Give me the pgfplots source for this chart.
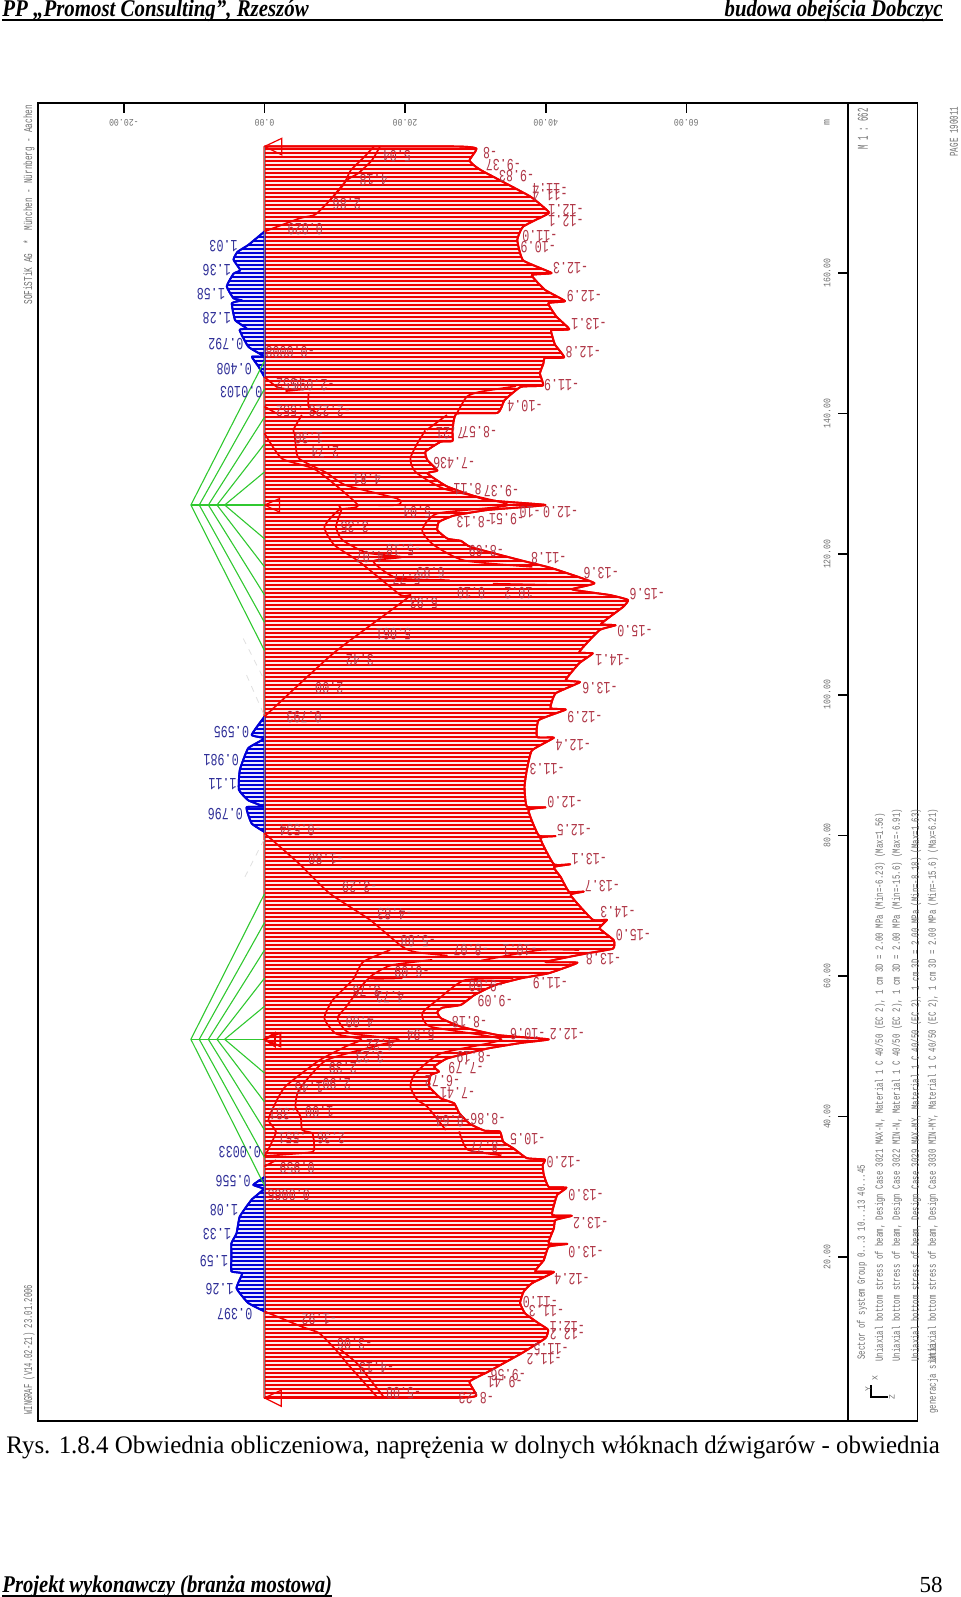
\documentclass[border=0pt]{standalone}
\usepackage{fontspec}
\setmainfont{Liberation Serif}
\newfontfamily\dos{Liberation Mono}
\usepackage{graphicx}
\usepackage{pgfplots}
\pgfplotsset{compat=1.18}
\usetikzlibrary{patterns.meta}

\definecolor{beamred}{HTML}{F00000}
\definecolor{beamblue}{HTML}{0000D8}
\definecolor{lblred}{HTML}{B03848}
\definecolor{lblblue}{HTML}{303098}
\definecolor{fan}{HTML}{30C830}
\definecolor{txtgray}{HTML}{707070}
\definecolor{palered}{HTML}{FFEAEA}
\definecolor{paleblue}{HTML}{EAEAFF}

% s = station along the beam [m], sigma = stress [MPa]; 1 MPa = 3.314 m of drawing
\pgfplotsset{/pgfplots/table/dg/.style={x expr=-3.314*\thisrow{sigma},y=s,row sep=\\}}
\newcommand{\tl}[1]{\scalebox{.82}[1]{#1}}
\pgfplotsset{
  inner/.style={draw=beamred,line width=.85pt,line join=round,smooth,tension=.35},
  fanline/.style={draw=fan,line width=.55pt},
  redhatch/.style={draw=beamred,line width=.95pt,line join=round,fill=palered,
    postaction={pattern={Lines[angle=0,distance=2pt,line width=.6pt]},pattern color=beamred}},
  bluehatch/.style={draw=beamblue,line width=.95pt,line join=round,fill=paleblue,
    postaction={pattern={Lines[angle=0,distance=2pt,line width=.6pt]},pattern color=beamblue}},
  labels/.style={draw=none,mark=none,nodes near coords={\scalebox{.69}[1]{\pgfplotspointmeta}},point meta=explicit symbolic,
    nodes near coords style={anchor=center,rotate=180,inner sep=0pt,font=\dos\fontsize{8.5}{9}\selectfont,text=#1}},
}

\begin{document}
\begin{tikzpicture}[x=.5pt,y=-.5pt]
\path[use as bounding box] (0,0) rectangle (960,1597);

% page header and footer
\node[anchor=base west,inner sep=0pt] at (2,16.5) {\scalebox{.87}[1]{\fontsize{12}{13}\selectfont\bfseries\itshape PP „Promost Consulting”, Rzeszów}};
\node[anchor=base east,inner sep=0pt] at (943,16.5) {\scalebox{.865}[1]{\fontsize{12}{13}\selectfont\bfseries\itshape budowa obejścia Dobczyc}};
\draw[line width=.9pt] (2,20) -- (943,20);
\node[anchor=base west,inner sep=0pt] at (6,1453) {\scalebox{.99}[1]{\fontsize{12.6}{13}\selectfont Rys. 1.8.4 Obwiednia obliczeniowa, naprężenia w dolnych włóknach dźwigarów - obwiednia}};
\node[anchor=base west,inner sep=0pt] at (2,1592) {\scalebox{.86}[1]{\fontsize{12}{13}\selectfont\bfseries\itshape Projekt wykonawczy (branża mostowa)}};
\draw[line width=.9pt] (2,1596) -- (332,1596);
\node[anchor=base east,inner sep=0pt] at (943,1592) {\fontsize{11.5}{12}\selectfont 58};

% side panel frame
\draw[line width=.8pt] (38,103) rectangle (917.5,1420.7);

\begin{axis}[
  at={(19pt,-710.35pt)},anchor=south west,
  scale only axis,width=405pt,height=658.85pt,
  xmin=-32.22,xmax=83.0,ymin=-3.25,ymax=184.18,
  clip=false,
  axis line style={line width=.8pt},
  tick style={line width=.8pt,black},
  tick align=inside,
  major tick length=5pt,
  xtick={-20,0,20,40,60},
  xticklabels={\tl{-20.00},\tl{0.00},\tl{20.00},\tl{40.00},\tl{60.00}},
  xtick pos=upper,xticklabel pos=upper,
  ytick={20,40,60,80,100,120,140,160},
  yticklabels={\tl{20.00},\tl{40.00},\tl{60.00},\tl{80.00},\tl{100.00},\tl{120.00},\tl{140.00},\tl{160.00}},
  ytick pos=upper,yticklabel pos=upper,
  xticklabel style={rotate=180,anchor=center,yshift=9.9pt,font=\dos\fontsize{5}{6}\selectfont,text=txtgray},
  yticklabel style={rotate=90,anchor=center,yshift=10.5pt,font=\dos\fontsize{5}{6}\selectfont,text=txtgray},
]

% red envelope, hatched
\addplot[redhatch,smooth,tension=.25]
  table[dg]{s sigma\\
0 0\\ 0 -8.14\\ .3 -9.09\\ 2.3 -8.8\\ 3.7 -9.59\\ 6.35 -11.04\\ 8.5 -12.06\\ 9.7 -12.17\\ 10.6 -11.77\\ 12 -11.19\\
13.5 -10.97\\ 15.1 -11.12\\ 16.3 -11.48\\ 17.9 -12.42\\ 18 -11.62\\ 19.6 -11.99\\ 21.5 -12.2\\ 21.9 -13\\ 22 -12.2\\
24.1 -12.42\\ 25.3 -12.49\\ 25.9 -13.19\\ 26 -12.35\\ 27.7 -12.45\\ 28.9 -12.57\\ 29.9 -12.96\\ 30 -12.2\\ 31.7 -11.99\\
33.1 -11.94\\ 33.9 -12.03\\ 34.1 -11.26\\ 35.5 -10.68\\ 36.4 -10.25\\ 37.9 -10.1\\ 38 -9.45\\ 39 -8.8\\ 40.5 -8.36\\ 41.9 -8.14\\
42.6 -7.57\\ 44.3 -7.06\\ 45.9 -7.13\\ 46.4 -7.49\\ 47.1 -7.28\\ 48.3 -7.86\\ 49.7 -9.59\\ 50.5 -11.04\\ 51 -12.2\\
51.6 -10.03\\ 52.8 -8.43\\ 54 -7.57\\ 54.9 -7.42\\ 55.5 -7.64\\ 55.9 -8.43\\ 57.3 -9.01\\ 58.7 -9.88\\ 59.7 -11.04\\ 60.4 -12.2\\
61.9 -13.43\\ 62 -12.06\\ 63.2 -13.8\\ 63.9 -14.96\\ 65.1 -14.99\\ 66.8 -14.38\\ 68 -14.7\\ 68 -14.09\\ 71.5 -13.14\\ 72 -13.7\\
72 -13.07\\ 74.1 -12.71\\ 75.5 -12.42\\ 75.9 -13.12\\ 75.9 -12.42\\ 79.6 -11.84\\ 79.9 -12.49\\ 80 -11.77\\ 83.6 -11.33\\ 84 -12.06\\
84.1 -11.26\\ 86.9 -11.16\\ 89.3 -11.26\\ 92.1 -11.48\\ 93.9 -12.42\\ 94 -11.7\\ 96.4 -11.77\\ 97.9 -12.93\\ 98.1 -12.28\\
100.2 -12.49\\ 101.8 -13.54\\ 102.1 -12.93\\ 104.5 -13.51\\ 105.9 -14.09\\ 106.1 -13.51\\ 109.2 -14.38\\ 109.9 -15.07\\ 110.1 -14.45\\
112.5 -15.39\\ 113.5 -15.6\\ 114.2 -14.81\\ 115 -13.2\\ 115.9 -14.16\\ 118 -12.35\\ 119.1 -11.04\\ 121 -8.87\\ 121.9 -8.43\\ 122.2 -7.86\\
123.4 -7.42\\ 124.6 -7.49\\ 125.5 -8.14\\ 126.3 -9.59\\ 127 -12.06\\ 127.7 -9.59\\ 129.6 -7.86\\ 131.5 -6.99\\ 131.9 -7.42\\ 133.4 -6.99\\
134.6 -6.91\\ 136 -7.57\\ 136.1 -8.07\\ 137.6 -8.07\\ 140 -8.25\\ 140.1 -10\\ 141.9 -10.3\\ 143.8 -11\\ 144 -11.95\\ 145.7 -11.82\\
147.1 -11.97\\ 147.9 -12.04\\ 148 -12.86\\ 149.8 -12.47\\ 151.4 -12.32\\ 151.9 -12.32\\ 152 -13.08\\ 153.8 -12.53\\ 155.7 -12.18\\ 156 -12.9\\
157.6 -12.04\\ 159.7 -11.47\\ 160 -12.32\\ 161.8 -11.1\\ 164.7 -10.85\\ 166.6 -11.1\\ 168.3 -12.1\\ 168.7 -12.2\\ 170.9 -11.4\\ 174.7 -9.25\\
176 -8.8\\ 177.7 -9.1\\ 178 -8.15\\ 178 0\\
} -- cycle;

% blue envelope, three spans
\addplot[bluehatch,smooth,tension=.25]
  table[dg]{s sigma\\
165.9 0\\ 164 .69\\ 163 1.16\\ 161.9 1.33\\ 160.4 1.04\\ 159.9 1.33\\ 158.1 1.62\\ 156.4 1.33\\ 156.1 .97\\ 155.7 1.4\\ 153.3 1.26\\
152.1 .76\\ 151.9 1.07\\ 149.5 .69\\ 148.1 0\\ 148.1 .54\\ 146.7 .26\\ 145.2 0\\
} -- cycle;
\addplot[bluehatch,smooth,tension=.25]
  table[dg]{s sigma\\
96.9 0\\ 94.3 .55\\ 93.8 0\\ 92.4 .7\\ 89.3 1.06\\ 86.5 1.1\\ 85 .7\\ 84.1 .04\\ 84 .77\\ 81.7 .55\\ 80.5 0\\
} -- cycle;
\addplot[bluehatch,smooth,tension=.25]
  table[dg]{s sigma\\
12.3 0\\ 13.5 .7\\ 15.6 1.2\\ 17.7 .96\\ 18 1.42\\ 20.1 1.42\\ 22 1.42\\ 23.4 1.2\\ 25.8 1.06\\ 28.2 .55\\ 29.7 .04\\ 30.3 .48\\ 31.4 0\\
} -- cycle;

% baseline
\addplot[draw=gray,line width=.55pt] table[dg]{s sigma\\ 0 0\\ 178 0\\};

% inner stress curves
\addplot[inner] table[dg]{s sigma\\ 178 -4.96\\ 176 -4.6\\ 174.2 -4.03\\ 173.2 -3.53\\ 170.4 -2.82\\ 168.3 -2.17\\ 167.8 -1.53\\ 165.9 0\\};
\addplot[inner] table[dg]{s sigma\\ 178 -4.7\\ 176.4 -4.25\\ 174.6 -3.7\\ 172.6 -3.4\\ 170.4 -2.82\\};
\addplot[inner] table[dg]{s sigma\\ 145.2 0\\ 143.8 -.53\\ 143.5 -.96\\ 143.5 -1.75\\ 143.2 -.9\\};
\addplot[inner] table[dg]{s sigma\\ 142.9 -1.89\\ 141 -1.89\\ 140.1 -2.25\\};
\addplot[inner] table[dg]{s sigma\\ 141 0\\ 140 -.53\\};
\addplot[inner] table[dg]{s sigma\\ 139.8 -1.6\\ 137.7 -1.24\\ 137 -1.3\\ 135.7 -1.33\\ 133.6 -1.48\\ 131.6 -2.65\\ 129.8 -3.5\\ 127.9 -5.7\\ 127 -5.68\\ 127 -3.3\\ 126.3 -3.3\\ 123.9 -3.07\\ 122 -3.35\\ 120.2 -4.4\\ 119.6 -5.9\\ 119 -4.67\\ 116.6 -5.68\\ 116.3 -7.93\\ 116.3 -4.81\\};
\addplot[inner] table[dg]{s sigma\\ 137.2 0\\ 133.6 -.75\\ 132 -2.2\\ 127 -4\\ 126.3 -3.2\\ 123.9 -2.57\\ 121.3 -3\\ 118.9 -4.08\\ 114.2 -5.83\\ 113.9 -6.18\\ 106 -2.99\\ 96.9 0\\};
\addplot[inner] table[dg]{s sigma\\ 137.6 -6.9\\ 135.7 -6.55\\ 133.6 -6.26\\ 131.7 -6.48\\ 129.3 -7.71\\ 127 -10.46\\ 125.8 -7.42\\ 123.4 -6.77\\ 121.3 -7.27\\ 119.1 -8.58\\ 118.2 -11.5\\};
\addplot[inner] table[dg]{s sigma\\ 137.7 -6.97\\ 139.8 -7.83\\};
\addplot[inner] table[dg]{s sigma\\ 140 -8.25\\ 142.4 -8.68\\ 143.1 -9.25\\ 143.9 -10.8\\};
\addplot[inner] table[dg]{s sigma\\ 115.8 -9.8\\ 115.6 -12.77\\};

\addplot[inner] table[dg]{s sigma\\ 80.3 0\\ 76 -1.48\\ 71.8 -2.78\\ 68 -4.52\\ 64.2 -5.9\\ 63.4 -6.5\\ 62.9 -7.86\\};
\addplot[inner] table[dg]{s sigma\\ 63.7 -5.39\\ 62 -4.23\\ 59.5 -3.8\\ 56.6 -2.93\\ 54 -2.57\\ 51.8 -3.07\\ 51 -4.16\\ 50 -3.5\\ 48 -2.35\\ 44.3 -.9\\ 41.4 -.39\\ 39.5 -.17\\ 37.9 -.49\\ 36.2 -.29\\ 34.3 0\\};
\addplot[inner] table[dg]{s sigma\\ 62.3 -7.2\\ 61.5 -5.4\\ 59.7 -4.5\\ 59.7 -5.9\\ 59.7 -4.5\\ 55.6 -3.5\\ 54 -3.14\\ 51.9 -3.65\\ 51 -5.75\\ 50.2 -4.96\\ 48 -2.64\\ 43.8 -1.48\\ 41.4 -1.33\\ 40 -1.55\\ 38.1 -1.62\\ 37.6 -2.06\\ 35.3 -2.13\\ 34.9 -1.9\\ 34.4 0\\};
\addplot[inner] table[dg]{s sigma\\ 62.2 -9.3\\ 63.7 -11.8\\ 63.7 -13.5\\};
\addplot[inner] table[dg]{s sigma\\ 59.7 -10.68\\ 59.4 -8.58\\ 56.6 -7.42\\ 54.7 -6.77\\ 52.8 -7.13\\ 51 -10.17\\ 49 -7.57\\ 46.2 -6.48\\ 44.3 -6.26\\ 42.4 -6.55\\ 41.4 -6.99\\ 38.1 -7.78\\};
\addplot[inner] table[dg]{s sigma\\ 34.5 -10.17\\ 35.3 -8.72\\ 37.9 -8.36\\};
\addplot[inner] table[dg]{s sigma\\ 33.8 -.49\\ 32.9 0\\};

\addplot[inner] table[dg]{s sigma\\ 12.3 0\\ 10.1 -1.62\\ 9.2 -2.35\\ 6.8 -3.07\\ 4.5 -3.65\\ .2 -4.81\\};
\addplot[inner] table[dg]{s sigma\\ 7 -3.2\\ 4.8 -4\\ .2 -5.1\\};

% green tendon fans at the two piers
\addplot[fanline] table[dg]{s sigma\\ 131.7 0\\ 127 1.71\\ 122.2 0\\};
\addplot[fanline] table[dg]{s sigma\\ 135.7 0\\ 127 2.04\\ 118.2 0\\};
\addplot[fanline] table[dg]{s sigma\\ 139.5 0\\ 127 2.41\\ 114.2 0\\};
\addplot[fanline] table[dg]{s sigma\\ 143.5 0\\ 127 2.8\\ 110.3 0\\};
\addplot[fanline] table[dg]{s sigma\\ 147.5 0\\ 127 3.16\\ 106.3 0\\};
\addplot[fanline] table[dg]{s sigma\\ 127 3.16\\ 127 0\\};
\addplot[fanline] table[dg]{s sigma\\ 55.7 0\\ 51 1.71\\ 46.2 0\\};
\addplot[fanline] table[dg]{s sigma\\ 59.7 0\\ 51 2.04\\ 42.1 0\\};
\addplot[fanline] table[dg]{s sigma\\ 63.7 0\\ 51 2.41\\ 38.1 0\\};
\addplot[fanline] table[dg]{s sigma\\ 67.6 0\\ 51 2.8\\ 34.2 0\\};
\addplot[fanline] table[dg]{s sigma\\ 71.7 0\\ 51 3.16\\ 30.2 0\\};
\addplot[fanline] table[dg]{s sigma\\ 51 3.16\\ 51 0\\};
% very faint continuation of the fans
\addplot[draw=gray!25,dashed,line width=.4pt] table[dg]{s sigma\\ 108 .91\\ 102.3 .04\\};
\addplot[draw=gray!25,dashed,line width=.4pt] table[dg]{s sigma\\ 102.8 .77\\ 97.3 .04\\};
\addplot[draw=gray!25,dashed,line width=.4pt] table[dg]{s sigma\\ 74.1 .84\\ 79.3 .04\\};

% supports
\addplot[draw=beamred,line width=.6pt] table[dg]{s sigma\\ 178 0\\ 179.15 -.74\\ 176.8 -.74\\ 178 0\\};
\addplot[draw=beamred,line width=.6pt] table[dg]{s sigma\\ 127 0\\ 127.9 -.64\\ 126 -.64\\ 127 0\\};
\addplot[draw=beamred,line width=.9pt] table[dg]{s sigma\\ 51 0\\ 51.9 -.68\\ 50 -.68\\ 51 0\\ 51.9 -.45\\ 50 -.45\\ 51 0\\};
\addplot[draw=beamred,line width=.6pt] table[dg]{s sigma\\ 0 0\\ 1.1 -.72\\ -1.2 -.72\\ 0 0\\};

% value labels
\addplot[labels=lblred] table[dg,meta=t]{s sigma t\\
177 -9.68 -8\\ 175.4 -10.25 -9.37\\ 173.8 -10.82 -9.83\\ 172 -12.25 -11.4\\ 171.1 -12.25 -11.4\\ 169 -12.94 -12.1\\ 167.3 -12.94 -12.1\\
165.2 -11.82 -11.0\\ 163.7 -11.75 -10.9\\ 160.7 -13.14 -12.3\\ 156.7 -13.73 -12.9\\ 152.7 -13.93 -13.1\\ 148.8 -13.68 -12.8\\ 144.1 -12.75 -11.9\\ 141 -11.18 -10.4\\
176.6 -5.68 5.04\\ 173.2 -4.68 4.18\\ 169.8 -3.53 2.86\\ 166.2 -1.75 0.029\\ 148.8 -1.1 -0.0008\\ 144.1 -2.1 -2.096\\ 144.2 -1.1 .552\\ 140.4 -2.8 -2.223\\ 140.4 -1.1 .552\\
137.4 -9.23 -8.57\\ 137.2 -7.97 7.21\\ 132.9 -8.29 -7.43\\ 132.9 -7.4 6\\ 129 -10.17 -9.37\\ 129.3 -8.72 8.11\\ 126 -12.71 -12.0\\ 126 -11.4 -10\\ 125 -10.39 -9.51\\ 124.5 -9 -8.13\\
120.5 -9.52 -8.69\\ 119.4 -12.2 -11.8\\ 117.3 -14.45 -13.6\\ 114.3 -16.43 -15.6\\ 114.5 -10.9 10.2\\ 114.5 -8.87 0.10\\ 117.3 -7.13 6.85\\ 116.5 -6.1 5.77\\ 120.6 -5.97 -5.18\\ 119.6 -4.52 4.07\\
113 -6.84 5.93\\ 108.7 -5.54 5.061\\ 105 -4.09 3.42\\ 100.9 -2.78 2.00\\ 96.9 -1.7 0.793\\ 109 -15.9 -15.0\\ 105 -14.96 -14.1\\ 100.9 -14.4 -13.6\\ 96.9 -13.75 -12.9\\ 92.8 -13.25 -12.4\\ 89.5 -12.13 -11.3\\
126 -6.55 5.04\\ 123.9 -3.87 3.35\\ 130.7 -4.4 4.81\\ 134.5 -2.6 2.74\\ 136.5 -1.9 1.30\\
84.7 -12.9 -12.0\\ 80.8 -13.3 -12.5\\ 76.7 -13.94 -13.1\\ 72.8 -14.5 -13.7\\ 69.1 -15.17 -14.3\\ 65.8 -15.83 -15.0\\ 62.4 -14.55 -13.8\\ 59 -12.27 -11.9\\ 56.5 -9.9 -9.09\\ 53.4 -8.8 -8.18\\ 51.8 -13 -12.2\\ 51.8 -11.3 -10.6\\ 48.4 -9 -8.19\\ 46.9 -8.65 -7.79\\ 45 -7.64 -6.72\\ 43.3 -8.29 -7.41\\
80.8 -1.55 -0.534\\ 76.7 -2.64 -1.80\\ 72.7 -4.09 -3.29\\ 68.8 -5.6 -4.83\\ 64.9 -6.6 -5.88\\ 63.7 -8.87 -8.07\\ 63.7 -10.97 -10.1\\ 60.6 -6.33 -6.09\\ 58.5 -9.52 -9.60\\ 57 -5.39 4.73\\ 57.8 -4.38 3.76\\ 53.5 -4.09 4.00\\ 51.6 -6.7 5.94\\ 50.2 -4.96 4.22\\ 48.5 -4.52 3.23\\ 46.9 -3.36 2.39\\ 44.7 -3.1 2.90\\ 44.1 -1.9 1.45\\
39.6 -9.59 -8.86\\ 39.3 -8.1 -8.64\\ 36.8 -11.3 -10.5\\ 35.7 -9.59 -8.77\\ 33.5 -12.86 -12.0\\ 28.8 -13.8 -13.0\\ 24.8 -14 -13.2\\ 20.8 -13.8 -13.0\\ 16.9 -13.2 -12.4\\ 13.6 -11.84 -11.0\\ 12.3 -12.1 -11.3\\ 10.1 -13 -12.1\\ 9 -13 -12.2\\ 6.9 -12.3 -11.5\\ 5.5 -12 -11.2\\ 3.3 -10.46 -9.56\\ 2.2 -10.32 -9.41\\ 0 -9.09 -8.23\\
40.7 -2.35 1.00\\ 40.3 -.8 .381\\ 36.9 -2.86 2.36\\ 36.9 -1.2 .551\\ 32.7 -1.4 0.959\\ 28.9 -1.04 0.0065\\ 11.2 -2.35 -1.92\\ 7.6 -3.87 -3.06\\ 4.2 -4.81 -4.13\\ .7 -5.97 -5.08\\
};
\addplot[labels=lblblue] table[dg,meta=t]{s sigma t\\
163.8 1.76 1.03\\ 160.4 2.05 1.36\\ 157 2.3 1.58\\ 153.6 2.05 1.28\\ 149.9 1.66 0.792\\ 146.4 1.3 0.408\\ 143 1 0.0103\\
94.7 1.42 0.595\\ 90.7 1.86 0.981\\ 87.3 1.8 1.11\\ 83 1.68 0.796\\
34.9 1.06 0.0033\\ 30.8 1.35 0.556\\ 26.7 1.74 1.08\\ 23.3 2.04 1.33\\ 19.5 2.17 1.59\\ 15.5 1.93 1.26\\ 11.9 1.28 0.397\\
};
\end{axis}

% program's page texts, turned a quarter
\tikzset{side/.style={rotate=90,anchor=west,inner sep=0pt,text=txtgray,font=\dos\fontsize{6}{7}\selectfont},
  leg/.style={rotate=90,anchor=west,inner sep=0pt,text=txtgray,font=\dos\fontsize{5.5}{6}\selectfont}}
\node[rotate=90,anchor=center,inner sep=0pt,text=txtgray,font=\dos\fontsize{5}{6}\selectfont] at (827,122.5) {m};
\node[side] at (29,305) {\scalebox{.645}[1]{SOFiSTiK AG \ * \ München - Nürnberg - Aachen}};
\node[side] at (29,1415) {\scalebox{.6}[1]{WINGRAF (V14.02-21) 23.01.2006}};
\node[side,font=\dos\fontsize{7.5}{8}\selectfont] at (863,150) {\scalebox{.49}[1]{M 1 : 662}};
\node[side] at (954,157) {\scalebox{.63}[1]{PAGE 190011}};
\node[leg] at (862,1360) {\scalebox{.67}[1]{Sector of system Group 0...3 10...13 40...45}};
\node[leg] at (880,1362) {\scalebox{.67}[1]{Uniaxial bottom stress of beam, Design Case 3021 MAX-N, Material 1 C 40/50 (EC 2), 1 cm 3D = 2.00 MPa (Min=-6.23) (Max=1.56)}};
\node[leg] at (897,1362) {\scalebox{.67}[1]{Uniaxial bottom stress of beam, Design Case 3022 MIN-N, Material 1 C 40/50 (EC 2), 1 cm 3D = 2.00 MPa (Min=-15.6) (Max=-6.91)}};
\node[leg] at (916,1362) {\scalebox{.67}[1]{Uniaxial bottom stress of beam, Design Case 3029 MAX-MY, Material 1 C 40/50 (EC 2), 1 cm 3D = 2.00 MPa (Min=-8.18) (Max=1.63)}};
\node[leg] at (933,1362) {\scalebox{.67}[1]{Uniaxial bottom stress of beam, Design Case 3030 MIN-MY, Material 1 C 40/50 (EC 2), 1 cm 3D = 2.00 MPa (Min=-15.6) (Max=6.21)}};
\node[leg] at (933,1414) {\scalebox{.67}[1]{generacja siatki}};
% axis symbol
\draw[black,line width=.6pt] (871,1385) -- (871,1397) -- (888,1397);
\node[side,anchor=center,font=\dos\fontsize{4}{5}\selectfont] at (875,1378) {X};
\node[side,anchor=center,font=\dos\fontsize{4}{5}\selectfont] at (868,1389) {Y};
\node[side,anchor=center,font=\dos\fontsize{4}{5}\selectfont] at (892,1397) {Z};
\end{tikzpicture}
\end{document}
